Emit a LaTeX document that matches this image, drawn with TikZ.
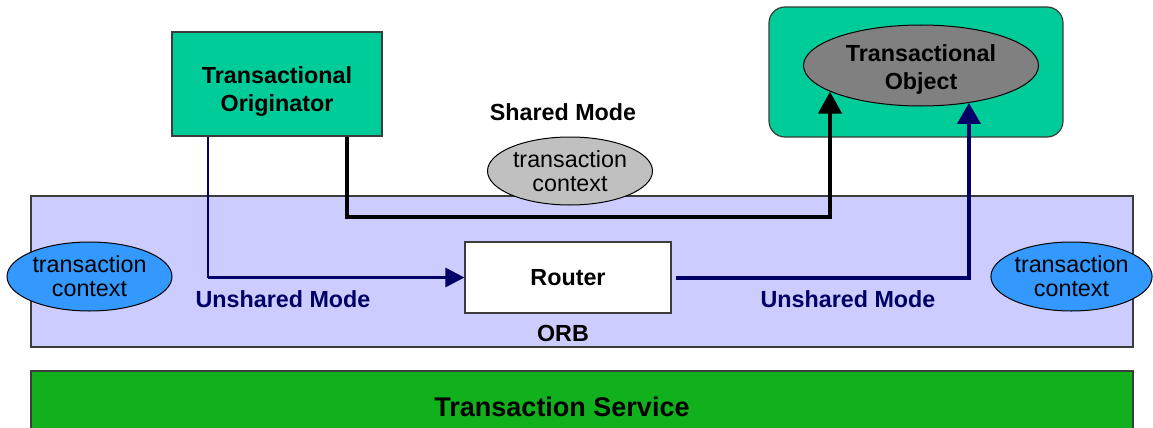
\documentclass[tikz,border=0pt]{standalone}
\usepackage{fontspec}
\setmainfont{Liberation Sans}
\usetikzlibrary{arrows.meta,shapes.geometric}
\definecolor{teal}{RGB}{0,204,153}
\definecolor{orbfill}{RGB}{204,204,255}
\definecolor{tsgreen}{RGB}{17,177,30}
\definecolor{ctxblue}{RGB}{51,153,255}
\definecolor{ctxgray}{RGB}{192,192,192}
\definecolor{objgray}{RGB}{128,128,128}
\definecolor{navy}{RGB}{0,0,102}
\definecolor{edge}{RGB}{60,60,60}
\tikzset{
  txt/.style={font=\fontsize{23.3}{24}\selectfont, align=center, inner sep=0pt},
  btxt/.style={txt, font=\fontsize{23.3}{28}\selectfont\bfseries},
  ctx/.style={ellipse, draw=black, line width=1pt, txt},
  box/.style={draw=edge, line width=1.2pt},
  navyline/.style={navy, line width=3pt},
}
\begin{document}
\begin{tikzpicture}[x=1pt,y=-1pt]
\useasboundingbox (0,0) rectangle (1153,428);
% ORB layer
\node[box, fill=orbfill, minimum width=1102pt, minimum height=151pt, inner sep=0pt] (orb) at (582,271.5) {};
% Transaction service
\node[box, fill=tsgreen, minimum width=1102pt, minimum height=70pt, inner sep=0pt] (ts) at (582,406) {};
\node[btxt, font=\fontsize{27}{32}\selectfont\bfseries] (tslabel) at (562,407) {Transaction Service};
% Originator
\node[box, fill=teal, minimum width=210pt, minimum height=104pt, inner sep=0pt] (orig) at (277,84) {};
\node[btxt] (origlabel) at (277,92) {Transactional\\Originator};
% Object container
\node[box, fill=teal, rounded corners=16pt, minimum width=294pt, minimum height=130pt, inner sep=0pt] (cont) at (916,72) {};
\node[ctx, fill=objgray, minimum width=235pt, minimum height=81pt] (obj) at (921,65.5) {};
\node[btxt] (objlabel) at (921,69.5) {Transactional\\Object};
% Shared mode
\node[btxt] (shared) at (563,112) {Shared Mode};
\node[ctx, fill=ctxgray, minimum width=165pt, minimum height=68pt] (ctxs) at (570,171) {transaction\\context};
% Router
\node[box, fill=white, minimum width=206pt, minimum height=71pt, btxt] (router) at (568,277.5) {Router};
\node[btxt] (orblabel) at (563,333) {ORB};
% side contexts
\node[ctx, fill=ctxblue, minimum width=165pt, minimum height=69pt] (ctxl) at (89.5,276.5) {transaction\\context};
\node[ctx, fill=ctxblue, minimum width=161pt, minimum height=69pt] (ctxr) at (1071.5,276.5) {transaction\\context};
% labels
\node[btxt, text=navy] (ul) at (283,299) {Unshared Mode};
\node[btxt, text=navy] (ur) at (848,299) {Unshared Mode};
% connectors
\coordinate (b1) at (347,217);
\coordinate (n1) at (208,277.5);
\draw[line width=4.3pt, -{Triangle[length=22pt,width=23pt]}] (orig.south -| b1) -- (b1) -| (obj.-164.8);
\draw[navy, line width=2pt] (orig.south -| n1) -- (n1);
\draw[navyline, -{Triangle[length=19pt,width=19pt]}] (n1) -- (router.west);
\draw[navy, line width=4pt, shorten <=4pt, -{Triangle[length=21pt,width=23pt]}] (router.east) -| (obj.-38.2);
\end{tikzpicture}
\end{document}
